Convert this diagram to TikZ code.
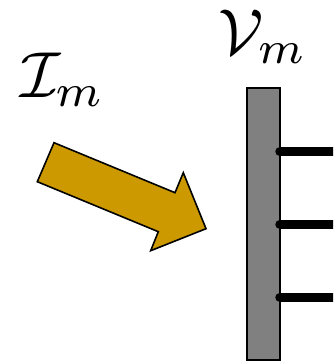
\documentclass[tikz,border=0pt]{standalone}
\usepackage{amsmath}
\definecolor{arrowgold}{RGB}{204,153,0}
\definecolor{bargray}{RGB}{128,128,128}
\begin{document}
\begin{tikzpicture}[x=1pt,y=-1pt,
  lbl/.style={inner sep=0pt,outer sep=0pt,anchor=base west,scale=6.5},
  barbox/.style={draw=black,line width=1.6pt,fill=bargray,inner sep=0pt,outer sep=0pt,minimum width=33pt,minimum height=272pt},
  prong/.style={line width=9.5pt,line cap=round,draw=black},
  bigarrow/.style={draw=black,line width=1.6pt,fill=arrowgold,line join=miter}]
\useasboundingbox (0,0) rectangle (333,364);
\clip (0,0) rectangle (333,364);
\node[lbl] (I) at (20,97) {$\mathcal{I}_m$};
\node[lbl] (V) at (218,54) {$\mathcal{V}_m$};
\node[barbox] (bar) at (263.5,224) {};
\coordinate (e1) at (345,151.7);
\coordinate (e2) at (345,224.3);
\coordinate (e3) at (345,297.3);
\draw[prong] (bar.east |- e1) -- (e1);
\draw[prong] (bar.east |- e2) -- (e2);
\draw[prong] (bar.east |- e3) -- (e3);
\draw[bigarrow] (54,142.7) -- (175,192.7) -- (183.3,172.7) -- (206,228.7) -- (150.7,250.7) -- (158.3,231.7) -- (37.3,181.7) -- cycle;
\end{tikzpicture}
\end{document}
